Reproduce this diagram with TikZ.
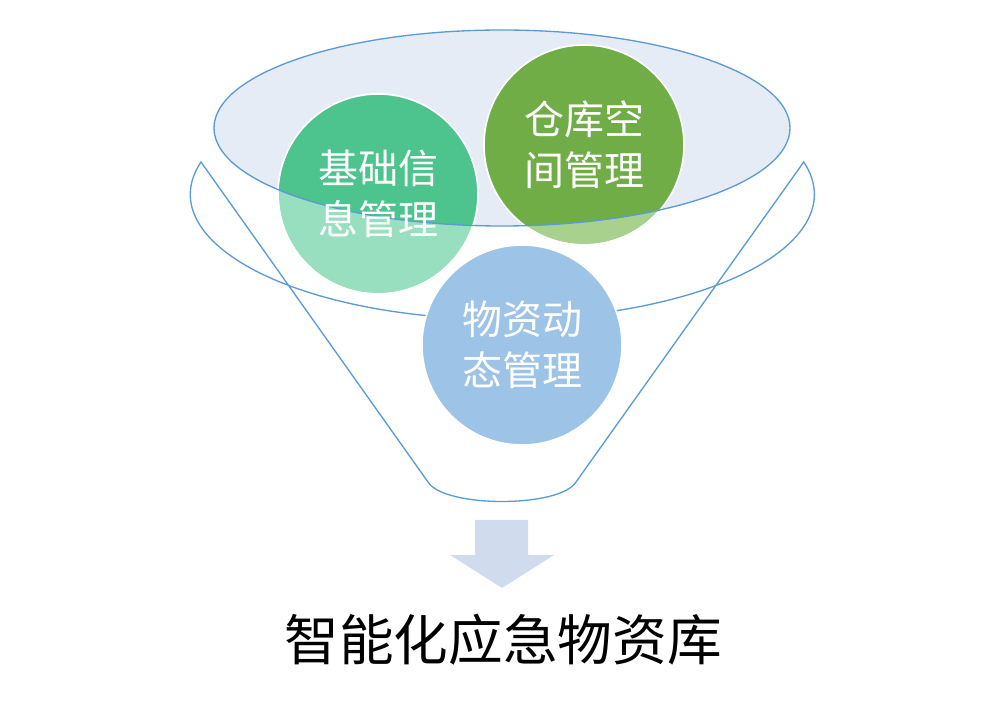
\documentclass[tikz,border=0pt]{standalone}
\usepackage{fontspec}
\newfontfamily\cjk{Noto Sans CJK SC}
\begin{document}
\begin{tikzpicture}[x=0.75pt,y=-0.75pt,
  ln/.style={draw=blue!45!cyan!60!black!70, line width=1pt},
  circ/.style={draw=white, line width=1.2pt},
  lbl/.style={text=white, font=\cjk\fontsize{30}{38}\selectfont, align=center}]
\definecolor{fl}{HTML}{5B9BD5}
\definecolor{ef}{HTML}{E6ECF6}
\useasboundingbox (0,0) rectangle (1004,716);
% funnel outline
\draw[fl, line width=1pt] (201,162) arc[start angle=195, end angle=-15, x radius=312, y radius=125]
  -- (576,482) .. controls (560,508) and (444,508) .. (428,482) -- cycle;
% inner ellipse
\fill[ef] (502,128) ellipse[x radius=288, y radius=98];
% circles light
\fill[circ, fill={rgb,255:red,152;green,223;blue,191}] (378,194) circle (100);
\fill[circ, fill={rgb,255:red,169;green,209;blue,142}] (584,145) circle (100);
\begin{scope}
\clip (502,128) ellipse[x radius=288, y radius=98];
\fill[fill={rgb,255:red,77;green,196;blue,141}] (378,194) circle (100);
\fill[fill={rgb,255:red,112;green,173;blue,71}] (584,145) circle (100);
\end{scope}
\draw[white, line width=1.2pt] (378,194) circle (100) (584,145) circle (100);
\filldraw[circ, fill={rgb,255:red,157;green,195;blue,230}] (522,345) circle (100);
\draw[fl, line width=1pt] (502,128) ellipse[x radius=288, y radius=98];
\node[lbl] (a) at (378,194) {基础信\\息管理};
\node[lbl] (b) at (584,145) {仓库空\\间管理};
\node[lbl] (c) at (522,345) {物资动\\态管理};
% arrow
\fill[fill={rgb,255:red,208;green,220;blue,238}] (475,520) -- (528,520) -- (528,555) -- (554,555) -- (502,588) -- (450,555) -- (475,555) -- cycle;
\node[font=\cjk\fontsize{41}{50}\selectfont] (t) at (503,640) {智能化应急物资库};
\end{tikzpicture}
\end{document}
